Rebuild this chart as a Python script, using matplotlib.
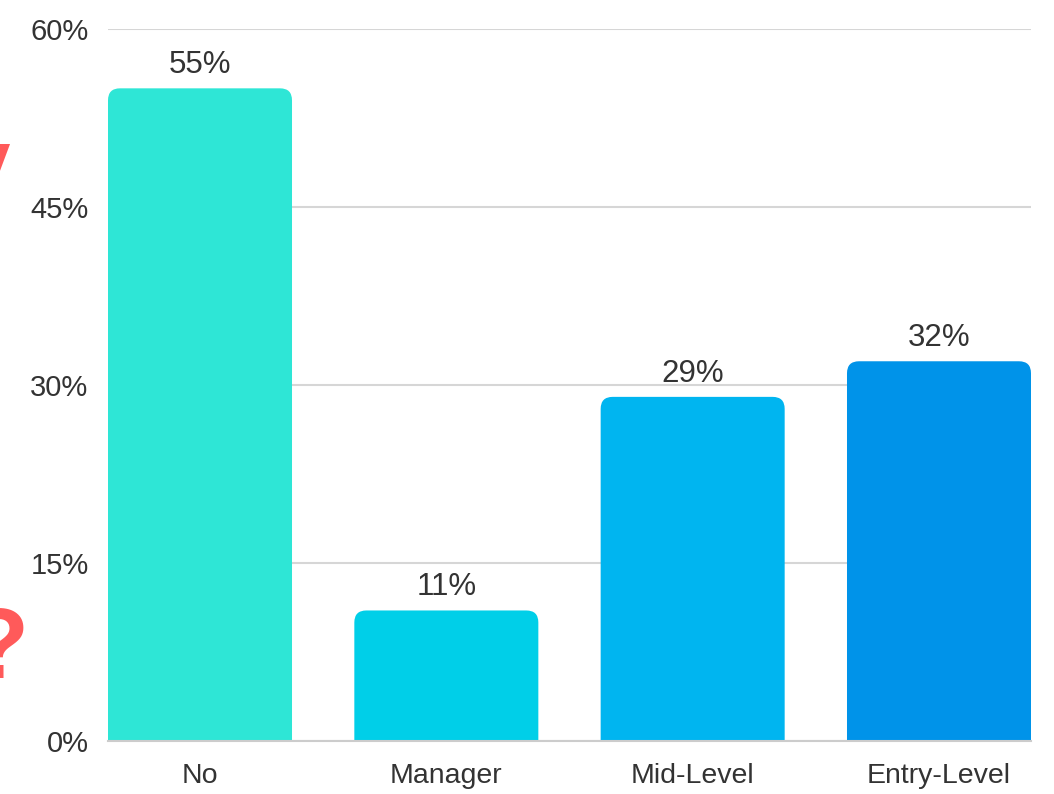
import matplotlib.pyplot as plt
from matplotlib.patches import FancyBboxPatch

categories = ["No", "Manager", "Mid-Level", "Entry-Level"]
values = [55, 11, 29, 32]
bar_colors = ["#2ee6d6", "#00cfe8", "#00b5f0", "#0093e9"]
yticks = [0, 15, 30, 45, 60]

plt.rcParams["font.family"] = ["Liberation Sans", "DejaVu Sans"]
text_color = "#333333"
grid_color = "#d6d6d6"

W, H = 1054, 794
fig = plt.figure(figsize=(W / 100, H / 100), dpi=100)
ax = fig.add_axes([108 / W, (H - 741) / H, 923 / W, 712 / H])

bar_width = 0.747
ax.set_xlim(-bar_width / 2, len(categories) - 1 + bar_width / 2)
ax.set_ylim(0, 60)

# px per data unit, used to get round top corners of ~12 px
x_px = 923 / (len(categories) - 1 + bar_width)
y_px = 712 / 60
radius_px = 12

bars = ax.bar(range(len(categories)), values, width=bar_width, color="none", zorder=2)
for bar, color in zip(bars, bar_colors):
    x0, w, h = bar.get_x(), bar.get_width(), bar.get_height()
    r = radius_px / x_px
    r_y = radius_px / y_px
    # start below zero so the bottom rounding is clipped away
    ax.add_patch(
        FancyBboxPatch(
            (x0, -3 * r_y), w, h + 3 * r_y,
            boxstyle=f"round,pad=0,rounding_size={r}",
            mutation_aspect=r_y / r,
            facecolor=color, edgecolor="none", zorder=2,
        )
    )
    ax.annotate(
        f"{h:.0f}%", (x0 + w / 2, h), xytext=(0, 6), textcoords="offset points",
        ha="center", va="bottom", fontsize=22.5, color=text_color, zorder=3,
    )

ax.set_yticks(yticks)
ax.set_yticklabels([f"{t}%" for t in yticks])
ax.set_xticks(range(len(categories)))
ax.set_xticklabels(categories)
ax.tick_params(axis="y", length=0, pad=14, labelsize=21, labelcolor=text_color)
ax.tick_params(axis="x", length=0, pad=16, labelsize=20.5, labelcolor=text_color)

ax.grid(axis="y", color=grid_color, linewidth=1.5, zorder=0)
ax.set_axisbelow(True)
for side in ["top", "right", "left"]:
    ax.spines[side].set_visible(False)
ax.spines["bottom"].set_color("#cccccc")
ax.spines["bottom"].set_linewidth(1.5)
ax.spines["bottom"].set_zorder(3)

# fragments of cropped red title at the left edge
fig.text(-33 / W, 1 - 678 / H, "?", fontsize=72, fontweight="bold", color="#ff5a5a",
         ha="left", va="baseline")
fig.text(-46 / W, 1 - 197 / H, "y", fontsize=72, fontweight="bold", color="#ff5a5a",
         ha="left", va="baseline")

fig.savefig("out.png", dpi=100, facecolor="white")
